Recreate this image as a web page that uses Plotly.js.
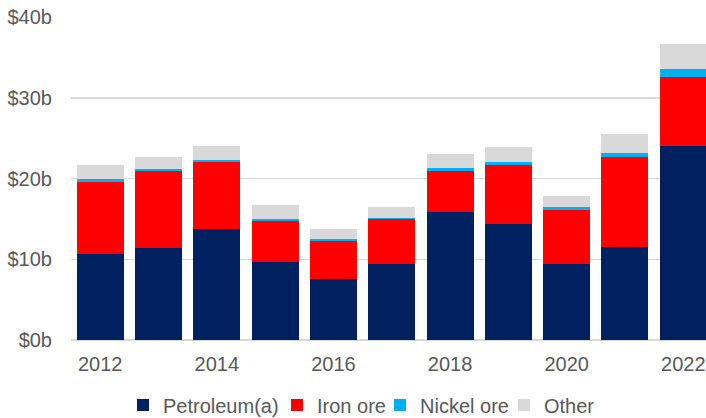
<!DOCTYPE html>
<html>
<head>
<meta charset="utf-8">
<script src="https://cdn.plot.ly/plotly-3.0.1.min.js"></script>
<style>html,body{margin:0;padding:0;background:#fff;}#chart{width:706px;height:418px;}</style>
</head>
<body>
<div id="chart"></div>
<script>
const years = [2012, 2013, 2014, 2015, 2016, 2017, 2018, 2019, 2020, 2021, 2022];
const petroleum = [10.7, 11.4, 13.8, 9.6, 7.5, 9.4, 15.9, 14.4, 9.4, 11.5, 24.0];
const ironOre   = [8.9, 9.5, 8.2, 5.1, 4.7, 5.6, 5.05, 7.25, 6.75, 11.15, 8.55];
const nickelOre = [0.4, 0.25, 0.3, 0.3, 0.25, 0.15, 0.35, 0.4, 0.35, 0.55, 0.95];
const other     = [1.7, 1.5, 1.7, 1.7, 1.3, 1.35, 1.7, 1.9, 1.35, 2.25, 3.2];
const seriesNames = ['Petroleum(a)', 'Iron ore', 'Nickel ore', 'Other'];
const tickYears = [2012, 2014, 2016, 2018, 2020, 2022];
const yTicks = [0, 10, 20, 30, 40];

const colors = ['#002060', '#FF0000', '#00B0F0', '#D9D9D9'];
const seriesValues = [petroleum, ironOre, nickelOre, other];
const legendIds = ['legend', 'legend2', 'legend3', 'legend4'];
const legendTextX = [158, 312, 415, 539];

const data = seriesValues.map((y, i) => ({
  type: 'bar', name: seriesNames[i], x: years, y: y,
  marker: {color: colors[i], line: {width: 0}},
  legend: legendIds[i],
  hoverinfo: 'skip'
}));

const font = {family: 'Liberation Sans, Arial, sans-serif', size: 20, color: '#595959'};

const layout = {
  width: 706, height: 418,
  margin: {l: 71, r: 0, t: 17, b: 78, pad: 0},
  barmode: 'stack',
  bargap: 0.194,
  paper_bgcolor: '#fff', plot_bgcolor: '#fff',
  font: font,
  xaxis: {
    range: [2011.5, 2022.39],
    tickvals: tickYears, ticktext: tickYears.map(String),
    showgrid: false, zeroline: false, showline: false,
    ticks: '', tickfont: font, ticklabelstandoff: 10
  },
  yaxis: {
    range: [0, 40],
    tickvals: yTicks, ticktext: yTicks.map(v => '$' + v + 'b'),
    showgrid: true, gridcolor: '#D9D9D9', gridwidth: 1.5,
    zeroline: true, zerolinecolor: '#D9D9D9', zerolinewidth: 1.5,
    showline: false, ticks: '', tickfont: font, ticklabelstandoff: 18
  },
  showlegend: true
};

legendIds.forEach((id, i) => {
  layout[id] = {
    orientation: 'h',
    xref: 'container', yref: 'container',
    x: (legendTextX[i] - 35) / 706, xanchor: 'left',
    y: 1 - 405 / 418, yanchor: 'middle',
    font: font, bgcolor: 'rgba(0,0,0,0)', borderwidth: 0
  };
});

Plotly.newPlot('chart', data, layout, {displayModeBar: false, staticPlot: true});
</script>
</body>
</html>
